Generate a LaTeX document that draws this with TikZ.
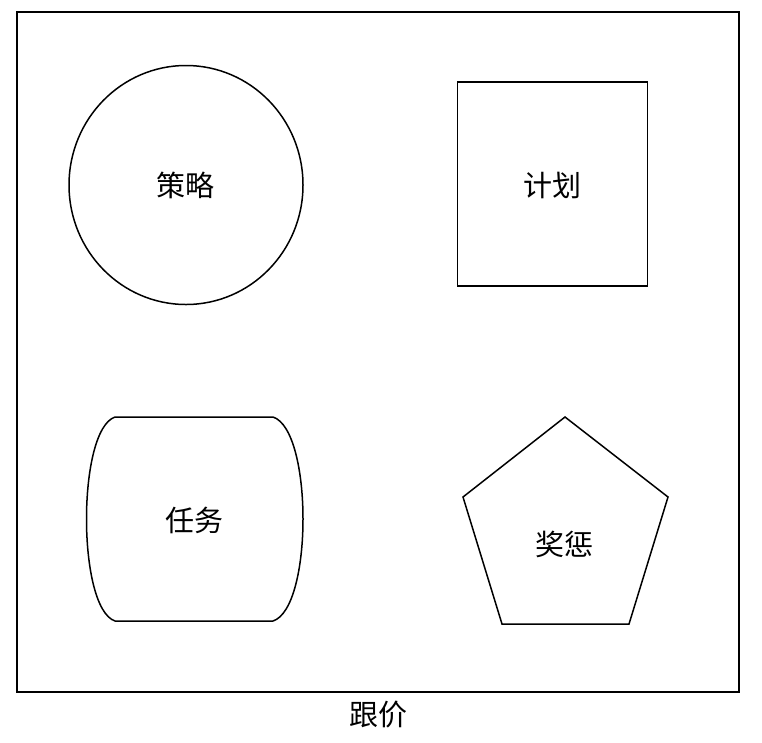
\documentclass[tikz,border=0pt]{standalone}
\usepackage{fontspec}
\usepackage{tikz}
\usetikzlibrary{shapes.geometric,positioning}
\newfontfamily\cjk{Noto Sans CJK SC}
\tikzset{
  outline/.style={draw=black, line width=1.5pt},
  lbl/.style={font=\cjk\fontsize{29}{34}\selectfont, inner sep=0pt}
}
\begin{document}
\begin{tikzpicture}[x=1pt, y=-1pt]
  \useasboundingbox (0,0) rectangle (762,742);
  % frame and caption
  \draw[outline] (17,12) rectangle (739,692);
  \node[lbl] (caption) at (378,715) {跟价};
  % strategy
  \node[outline, ellipse, minimum width=234pt, minimum height=239pt] (strategy) at (186,185) {};
  \node[lbl] (strategytext) at (185,185) {策略};
  % plan
  \node[outline, rectangle, minimum width=190pt, minimum height=204pt] (plan) at (552.5,184) {};
  \node[lbl] (plantext) at (552,185) {计划};
  % task
  \draw[outline] (115,417) -- (273,417)
    .. controls (313,430) and (313,608) .. (273,621) -- (115,621)
    .. controls (77,608) and (77,430) .. cycle;
  \node[lbl] (task) at (194,520) {任务};
  % reward
  \draw[outline, line join=miter] (565,417) -- (668,497) -- (629,624) -- (502,624) -- (463,497) -- cycle;
  \node[lbl] (reward) at (564,544) {奖惩};
\end{tikzpicture}
\end{document}
